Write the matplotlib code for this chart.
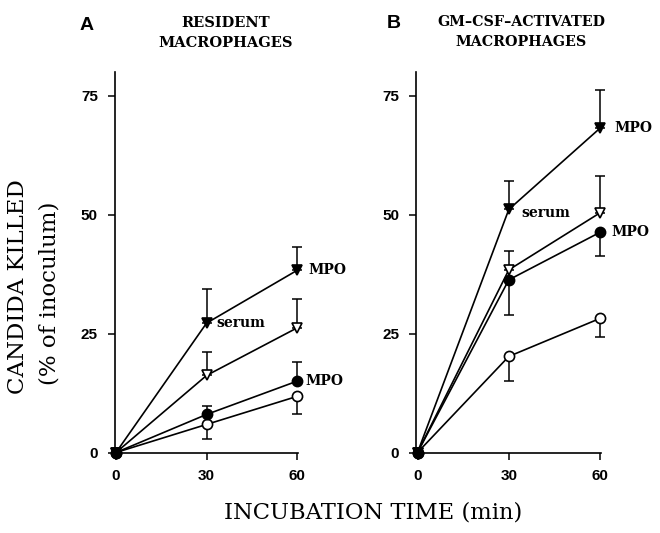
import matplotlib
matplotlib.use("Agg")
import matplotlib.pyplot as plt
import numpy as np

# ---- data ----
time = [0, 30, 60]

# Panel A: resident macrophages
A_mpo_serum = [0, 27.2, 38.3]
A_mpo_serum_up = [0, 7.2, 5.0]
A_serum = [0, 16.2, 26.2]
A_serum_up = [0, 5.0, 6.1]
A_mpo = [0, 8.0, 15.0]
A_mpo_up = [0, 1.7, 4.0]
A_ctrl = [0, 5.9, 11.8]
A_ctrl_down = [0, 3.0, 3.8]

# Panel B: GM-CSF-activated macrophages
B_mpo_serum = [0, 51.1, 68.2]
B_mpo_serum_up = [0, 6.0, 8.0]
B_serum = [0, 38.4, 50.4]
B_serum_up = [0, 3.9, 7.8]
B_mpo = [0, 36.3, 46.3]
B_mpo_down = [0, 7.3, 5.0]
B_ctrl = [0, 20.2, 28.2]
B_ctrl_down = [0, 5.1, 4.0]

yticks = [0, 25, 50, 75]
xticks = [0, 30, 60]

W, H = 660, 533
fig = plt.figure(figsize=(W / 100, H / 100), dpi=100)


def fx(px):
    return px / W


def fy(py):
    return 1 - py / H


def rect(l, t, r, b):
    return [fx(l), fy(b), fx(r) - fx(l), fy(t) - fy(b)]


axA = fig.add_axes(rect(114.5, 72, 298, 452.5))
axB = fig.add_axes(rect(416, 72, 601, 452.5))

serif = "DejaVu Serif"
sans = "Liberation Sans"


def series(ax, y, up, down, marker, filled):
    z = np.zeros(len(y))
    yerr = [np.array(down) if down is not None else z,
            np.array(up) if up is not None else z]
    ax.errorbar(time, y, yerr=yerr, fmt="none", ecolor="black",
                elinewidth=1.1, capsize=3.5, capthick=1.1, zorder=2, clip_on=False)
    ax.plot(time, y, color="black", lw=1.2, zorder=3, clip_on=False)
    ax.plot(time, y, linestyle="none", marker=marker, markersize=7.3 if marker == "o" else 7.3,
            mfc="black" if filled else "white", mec="black", mew=1.2,
            zorder=4, clip_on=False)


def style(ax):
    ax.set_xlim(-0.5, 60.3)
    ax.set_ylim(0, 80)
    for s in ["top", "right"]:
        ax.spines[s].set_visible(False)
    for s in ["left", "bottom"]:
        ax.spines[s].set_linewidth(1.2)
    ax.set_yticks(yticks)
    ax.set_xticks(xticks)
    ax.tick_params(axis="both", direction="out", length=5, width=1.1, pad=7,
                   labelsize=11)
    for lab in ax.get_xticklabels() + ax.get_yticklabels():
        lab.set_fontweight("bold")
        lab.set_fontfamily(sans)


# Panel A
series(axA, A_ctrl, None, A_ctrl_down, "o", False)
series(axA, A_mpo, A_mpo_up, None, "o", True)
series(axA, A_serum, A_serum_up, None, "v", False)
series(axA, A_mpo_serum, A_mpo_serum_up, None, "v", True)
style(axA)

# Panel B
series(axB, B_ctrl, None, B_ctrl_down, "o", False)
series(axB, B_serum, B_serum_up, None, "v", False)
series(axB, B_mpo, None, B_mpo_down, "o", True)
series(axB, B_mpo_serum, B_mpo_serum_up, None, "v", True)
style(axB)

ann = dict(fontfamily=serif, fontweight="bold", fontsize=10, va="center", ha="left")
axA.text(63.6, A_mpo_serum[2], "MPO", **ann)
axA.text(33.4, A_mpo_serum[1], "serum", **ann)
axA.text(62.8, A_mpo[2], "MPO", **ann)
axB.text(64.6, B_mpo_serum[2], "MPO", **ann)
axB.text(34.1, B_mpo_serum[1] - 0.8, "serum", **ann)
axB.text(63.6, B_mpo[2], "MPO", **ann)

# panel letters and titles
fig.text(fx(87), fy(25), "A", fontfamily=sans, fontweight="bold", fontsize=14,
         ha="center", va="center")
fig.text(fx(394), fy(24), "B", fontfamily=sans, fontweight="bold", fontsize=14,
         ha="center", va="center")
fig.text(fx(226), fy(33), "RESIDENT\nMACROPHAGES", fontfamily=serif,
         fontweight="bold", fontsize=10.5, ha="center", va="center",
         linespacing=1.55)
fig.text(fx(521), fy(32), "GM\u2013CSF\u2013ACTIVATED\nMACROPHAGES", fontfamily=serif,
         fontweight="bold", fontsize=10.3, ha="center", va="center",
         linespacing=1.55)

# axis labels
fig.text(fx(18), fy(287), "CANDIDA KILLED", fontfamily=serif,
         fontsize=16.5, rotation=90, ha="center", va="center")
fig.text(fx(50), fy(293), "(% of inoculum)", fontfamily=serif,
         fontsize=16.5, rotation=90, ha="center", va="center")
fig.text(fx(373), fy(512), "INCUBATION TIME (min)", fontfamily=serif,
         fontsize=16.3, ha="center", va="center")

fig.savefig("out.png", dpi=100)
